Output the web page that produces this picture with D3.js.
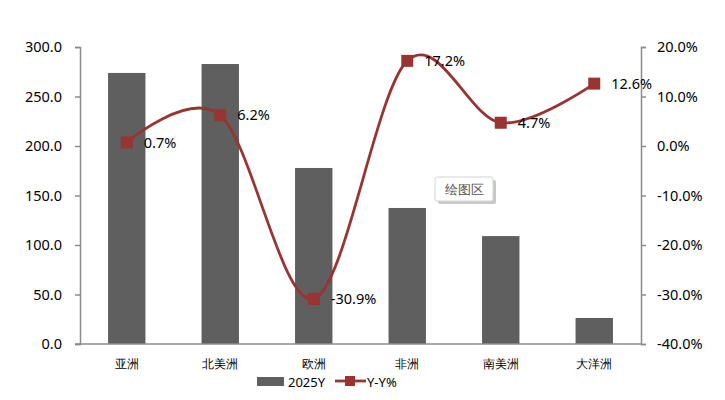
<!DOCTYPE html>
<html>
<head>
<meta charset="utf-8">
<script src="https://cdn.jsdelivr.net/npm/d3@7"></script>
<style>
  body { margin: 0; background: #fff; }
  svg text { font-family: "Noto Sans", "Liberation Sans", sans-serif; }
</style>
</head>
<body>
<svg id="chart"></svg>
<script>
// chart data
const categories = ["亚洲", "北美洲", "欧洲", "非洲", "南美洲", "大洋洲"];
const volume = [273.8, 282.8, 177.8, 137.4, 109.0, 26.3];   // 2025Y
const yoy = [0.7, 6.2, -30.9, 17.2, 4.7, 12.6];            // Y-Y%
const leftTicks = [0, 50, 100, 150, 200, 250, 300];
const rightTicks = [-40, -30, -20, -10, 0, 10, 20];

const width = 725;
const height = 400;
const margin = {left: 80, right: 84, top: 47, bottom: 56};

const barColor = "#5f5f5f";
const lineColor = "#983432";
const axisColor = "#8c8c8c";

const svg = d3.select("#chart")
  .attr("width", width)
  .attr("height", height);

const x = d3.scaleBand()
  .domain(categories)
  .range([margin.left, width - margin.right])
  .paddingInner(0.6)
  .paddingOuter(0.3);

const xc = d => x(d) + x.bandwidth() / 2;

const yLeft = d3.scaleLinear()
  .domain([0, 300])
  .range([height - margin.bottom, margin.top]);

const yRight = d3.scaleLinear()
  .domain([-40, 20])
  .range([height - margin.bottom, margin.top]);

// bars
svg.append("g")
  .selectAll("rect")
  .data(categories)
  .join("rect")
    .attr("x", d => x(d))
    .attr("width", x.bandwidth())
    .attr("y", (d, i) => yLeft(volume[i]))
    .attr("height", (d, i) => yLeft(0) - yLeft(volume[i]))
    .attr("fill", barColor);

// axes
const leftAxis = svg.append("g")
  .attr("transform", `translate(${margin.left},0)`)
  .call(d3.axisLeft(yLeft).tickValues(leftTicks).tickFormat(d3.format(".1f")).tickSize(5).tickPadding(13));

const rightAxis = svg.append("g")
  .attr("transform", `translate(${width - margin.right},0)`)
  .call(d3.axisRight(yRight).tickValues(rightTicks).tickFormat(d => d.toFixed(1) + "%").tickSize(5).tickPadding(11));

const bottomAxis = svg.append("g")
  .attr("transform", `translate(0,${height - margin.bottom})`)
  .call(d3.axisBottom(x).tickSize(0).tickPadding(15));

for (const ax of [leftAxis, rightAxis, bottomAxis]) {
  ax.select(".domain").attr("stroke", axisColor).attr("stroke-width", 1.5);
  ax.selectAll(".tick line").attr("stroke", axisColor).attr("stroke-width", 1.5);
  ax.selectAll(".tick text").attr("fill", "#000").attr("font-size", 14.5);
}
bottomAxis.select(".domain").attr("d", `M${margin.left - 5},0H${width - margin.right}`);
bottomAxis.selectAll(".tick text")
  .attr("font-family", "'Noto Sans CJK SC', sans-serif")
  .attr("font-size", 12);

// smoothed Y-Y% line
const line = d3.line()
  .x((d, i) => xc(categories[i]))
  .y(d => yRight(d))
  .curve(d3.curveCardinal.tension(0));

svg.append("path")
  .datum(yoy)
  .attr("fill", "none")
  .attr("stroke", lineColor)
  .attr("stroke-width", 2.8)
  .attr("d", line);

svg.append("g")
  .selectAll("rect")
  .data(yoy)
  .join("rect")
    .attr("x", (d, i) => xc(categories[i]) - 6)
    .attr("y", d => yRight(d) - 6)
    .attr("width", 12)
    .attr("height", 12)
    .attr("fill", lineColor);

// data labels
svg.append("g")
  .selectAll("text")
  .data(yoy)
  .join("text")
    .attr("x", (d, i) => xc(categories[i]) + 17)
    .attr("y", d => yRight(d))
    .attr("dy", "0.35em")
    .attr("font-size", 14.5)
    .text(d => d.toFixed(1) + "%");

// legend
const legend = svg.append("g");
legend.append("rect")
  .attr("x", 257).attr("y", 377).attr("width", 27).attr("height", 9)
  .attr("fill", barColor);
legend.append("text")
  .attr("x", 288).attr("y", 382).attr("dy", "0.35em")
  .attr("font-size", 13).text("2025Y");
legend.append("line")
  .attr("x1", 335).attr("x2", 366).attr("y1", 381).attr("y2", 381)
  .attr("stroke", lineColor).attr("stroke-width", 2.8);
legend.append("rect")
  .attr("x", 345).attr("y", 376).attr("width", 10).attr("height", 10)
  .attr("fill", lineColor);
legend.append("text")
  .attr("x", 367).attr("y", 382).attr("dy", "0.35em")
  .attr("font-size", 13).text("Y-Y%");

// "绘图区" hover tip
const tip = svg.append("g").attr("transform", "translate(435,177)");
tip.append("rect")
  .attr("x", 3).attr("y", 3).attr("width", 58).attr("height", 24)
  .attr("rx", 2).attr("fill", "#c8c8c8");
tip.append("rect")
  .attr("width", 58).attr("height", 24)
  .attr("rx", 2).attr("fill", "#fff")
  .attr("stroke", "#d4d4d4");
tip.append("text")
  .attr("x", 29).attr("y", 12).attr("dy", "0.35em")
  .attr("text-anchor", "middle")
  .attr("font-family", "'Noto Sans CJK SC', sans-serif")
  .attr("font-size", 13).attr("fill", "#555")
  .text("绘图区");
</script>
</body>
</html>
